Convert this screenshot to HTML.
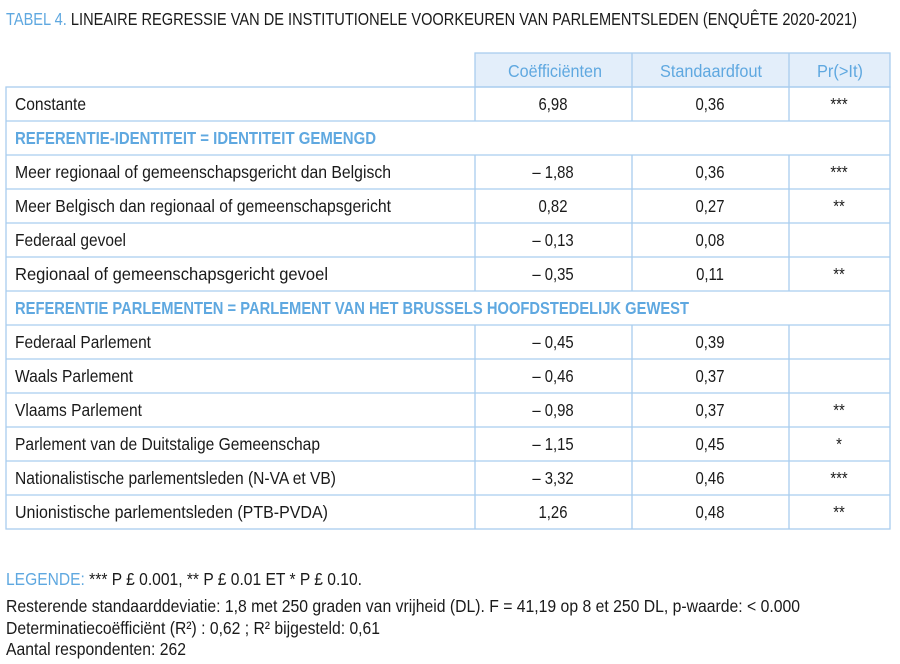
<!DOCTYPE html>
<html><head><meta charset="utf-8"><style>
html,body{margin:0;padding:0;background:#fff;width:900px;height:664px;overflow:hidden}
svg{display:block}
text{font-family:"Liberation Sans Narrow","Liberation Sans",sans-serif;font-size:17.5px;fill:#1a1a1a}
.b{fill:#5fa8e0}
.c text{text-anchor:middle}
</style></head><body>
<svg width="900" height="664" viewBox="0 0 900 664" xmlns="http://www.w3.org/2000/svg">
<text x="6" y="25" textLength="851" lengthAdjust="spacingAndGlyphs" font-size="18"><tspan class="b">TABEL 4.</tspan> LINEAIRE REGRESSIE VAN DE INSTITUTIONELE VOORKEUREN VAN PARLEMENTSLEDEN (ENQUÊTE 2020-2021)</text>
<rect x="475" y="53" width="415" height="34" fill="#e3eefa"/>
<g stroke="#a9cdef" stroke-width="1.3" fill="none">
<rect x="475" y="53" width="415" height="34"/>
<rect x="6" y="87" width="884" height="442"/>
<line x1="6" y1="121" x2="890" y2="121"/><line x1="6" y1="155" x2="890" y2="155"/>
<line x1="6" y1="189" x2="890" y2="189"/><line x1="6" y1="223" x2="890" y2="223"/>
<line x1="6" y1="257" x2="890" y2="257"/><line x1="6" y1="291" x2="890" y2="291"/>
<line x1="6" y1="325" x2="890" y2="325"/><line x1="6" y1="359" x2="890" y2="359"/>
<line x1="6" y1="393" x2="890" y2="393"/><line x1="6" y1="427" x2="890" y2="427"/>
<line x1="6" y1="461" x2="890" y2="461"/><line x1="6" y1="495" x2="890" y2="495"/>
<line x1="632" y1="53" x2="632" y2="87"/><line x1="789" y1="53" x2="789" y2="87"/>
<path d="M475 87V121M632 87V121M789 87V121"/>
<path d="M475 155V291M632 155V291M789 155V291"/>
<path d="M475 325V529M632 325V529M789 325V529"/>
</g>
<g>
<text class="b" x="508" y="77" textLength="94" lengthAdjust="spacingAndGlyphs">Coëfficiënten</text>
<text class="b" x="660" y="77" textLength="102" lengthAdjust="spacingAndGlyphs">Standaardfout</text>
<text class="b" x="817" y="77" textLength="46" lengthAdjust="spacingAndGlyphs">Pr(&gt;It)</text>
</g>
<g>
<text x="15" y="110" textLength="71" lengthAdjust="spacingAndGlyphs">Constante</text>
<text class="b" x="15" y="144" textLength="361" lengthAdjust="spacingAndGlyphs" font-weight="bold" font-size="17">REFERENTIE-IDENTITEIT = IDENTITEIT GEMENGD</text>
<text x="15" y="178" textLength="376" lengthAdjust="spacingAndGlyphs">Meer regionaal of gemeenschapsgericht dan Belgisch</text>
<text x="15" y="212" textLength="376" lengthAdjust="spacingAndGlyphs">Meer Belgisch dan regionaal of gemeenschapsgericht</text>
<text x="15" y="246" textLength="111" lengthAdjust="spacingAndGlyphs">Federaal gevoel</text>
<text x="15" y="280" textLength="313" lengthAdjust="spacingAndGlyphs">Regionaal of gemeenschapsgericht gevoel</text>
<text class="b" x="15" y="314" textLength="674" lengthAdjust="spacingAndGlyphs" font-weight="bold" font-size="17">REFERENTIE PARLEMENTEN = PARLEMENT VAN HET BRUSSELS HOOFDSTEDELIJK GEWEST</text>
<text x="15" y="348" textLength="136" lengthAdjust="spacingAndGlyphs">Federaal Parlement</text>
<text x="15" y="382" textLength="118" lengthAdjust="spacingAndGlyphs">Waals Parlement</text>
<text x="15" y="416" textLength="127" lengthAdjust="spacingAndGlyphs">Vlaams Parlement</text>
<text x="15" y="450" textLength="305" lengthAdjust="spacingAndGlyphs">Parlement van de Duitstalige Gemeenschap</text>
<text x="15" y="484" textLength="321" lengthAdjust="spacingAndGlyphs">Nationalistische parlementsleden (N-VA et VB)</text>
<text x="15" y="518" textLength="313" lengthAdjust="spacingAndGlyphs">Unionistische parlementsleden (PTB-PVDA)</text>
</g>
<g class="c">
<g transform="translate(553,0) scale(0.85,1)">
<text x="0" y="110">6,98</text><text x="0" y="178">– 1,88</text><text x="0" y="212">0,82</text><text x="0" y="246">– 0,13</text><text x="0" y="280">– 0,35</text><text x="0" y="348">– 0,45</text><text x="0" y="382">– 0,46</text><text x="0" y="416">– 0,98</text><text x="0" y="450">– 1,15</text><text x="0" y="484">– 3,32</text><text x="0" y="518">1,26</text>
</g>
<g transform="translate(710,0) scale(0.85,1)">
<text x="0" y="110">0,36</text><text x="0" y="178">0,36</text><text x="0" y="212">0,27</text><text x="0" y="246">0,08</text><text x="0" y="280">0,11</text><text x="0" y="348">0,39</text><text x="0" y="382">0,37</text><text x="0" y="416">0,37</text><text x="0" y="450">0,45</text><text x="0" y="484">0,46</text><text x="0" y="518">0,48</text>
</g>
<g transform="translate(839,0) scale(0.85,1)">
<text x="0" y="110">***</text><text x="0" y="178">***</text><text x="0" y="212">**</text><text x="0" y="280">**</text><text x="0" y="416">**</text><text x="0" y="450">*</text><text x="0" y="484">***</text><text x="0" y="518">**</text>
</g>
</g>
<text x="6" y="585" textLength="356" lengthAdjust="spacingAndGlyphs"><tspan class="b">LEGENDE:</tspan> *** P £ 0.001, ** P £ 0.01 ET * P £ 0.10.</text>
<text x="6" y="612" textLength="794" lengthAdjust="spacingAndGlyphs">Resterende standaarddeviatie: 1,8 met 250 graden van vrijheid (DL). F = 41,19 op 8 et 250 DL, p-waarde: &lt; 0.000</text>
<text x="6" y="634" textLength="374" lengthAdjust="spacingAndGlyphs">Determinatiecoëfficiënt (R²) : 0,62 ; R² bijgesteld: 0,61</text>
<text x="6" y="655" textLength="180" lengthAdjust="spacingAndGlyphs">Aantal respondenten: 262</text>
</svg>
</body></html>
